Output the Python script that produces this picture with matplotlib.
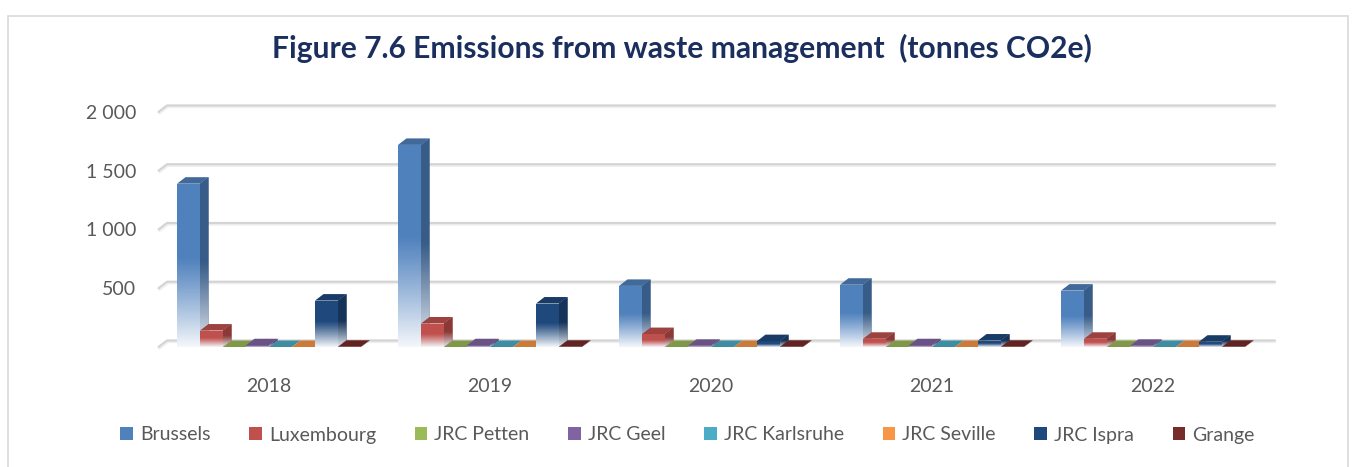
import numpy as np
import matplotlib
matplotlib.use("Agg")
import matplotlib.pyplot as plt
from matplotlib.patches import Polygon, Rectangle, Patch
from matplotlib.transforms import IdentityTransform
from matplotlib.colors import to_rgb
from matplotlib.ticker import FixedLocator, FixedFormatter
from matplotlib.lines import Line2D

# ---------------- data ----------------
years = ["2018", "2019", "2020", "2021", "2022"]
series_names = ["Brussels", "Luxembourg", "JRC Petten", "JRC Geel",
                "JRC Karlsruhe", "JRC Seville", "JRC Ispra", "Grange"]
brussels = [1390, 1720, 520, 530, 480]
luxembourg = [140, 200, 110, 70, 70]
jrc_petten = [0, 0, 0, 0, 0]
jrc_geel = [15, 15, 10, 15, 10]
jrc_karlsruhe = [0, 0, 0, 0, 0]
jrc_seville = [0, 0, 0, 0, 0]
jrc_ispra = [395, 370, 50, 55, 45]
grange = [2, 2, 2, 2, 2]
y_ticks = [500, 1000, 1500, 2000]
y_tick_labels = ["500", "1 000", "1 500", "2 000"]
grid_values = [0, 500, 1000, 1500, 2000]
title = "Figure 7.6 Emissions from waste management  (tonnes CO2e)"

series_values = [brussels, luxembourg, jrc_petten, jrc_geel,
                 jrc_karlsruhe, jrc_seville, jrc_ispra, grange]
colors = ["#4F81BD", "#C0504D", "#9BBB59", "#8064A2",
          "#4BACC6", "#F79646", "#1F497D", "#772C2A"]

FONT = ["Lato", "DejaVu Sans"]
plt.rcParams["font.family"] = FONT
TXT = "#595959"

W, H = 1356, 467
fig = plt.figure(figsize=(W / 100, H / 100), dpi=100)
fig.patch.set_facecolor("white")
ax = fig.add_axes([158.5 / W, (H - 347) / H, 1105 / W, 235 / H])
ax.set_xlim(-0.5, 4.5)
ax.set_ylim(0, 2000)
ax.set_facecolor("none")
for s in ax.spines.values():
    s.set_visible(False)

DX, DY = 8.5, 6.5   # 3-D depth offset in pixels

T = ax.transData
Tinv = ax.transData.inverted()

# back-wall gridlines (drawn inside the axes, beneath the bars)
for v in grid_values:
    x0, y0 = T.transform((-0.5, v))
    x1, _ = T.transform((4.5, v))
    sh = Line2D([x0 + 1, x0 + DX + 1, x1 + DX + 3], [y0 - 1.6, y0 + DY - 1.6, y0 + DY - 1.6],
                transform=IdentityTransform(), color="#EFEFEF", lw=1.4, zorder=0.4)
    sh.set_clip_on(False)
    ax.add_line(sh)
    line = Line2D([x0, x0 + DX, x1 + DX + 3], [y0, y0 + DY, y0 + DY],
                  transform=IdentityTransform(), color="#D4D4D4", lw=1.6,
                  zorder=0.5, solid_capstyle="round")
    line.set_clip_on(False)
    ax.add_line(line)


def shade(c, f):
    r = np.array(to_rgb(c))
    return tuple(r * f)


def grad_img(top, bottom, solid_frac, n=200):
    top = np.array(to_rgb(top))
    bottom = np.array(to_rgb(bottom))
    t = np.linspace(0, 1, n)
    k = np.clip((t - solid_frac) / (1 - solid_frac), 0, 1)
    k = k ** 1.1
    arr = top[None, :] * (1 - k[:, None]) + bottom[None, :] * k[:, None]
    return arr[:, None, :]


n_series = len(series_names)
bw = 23 / 221.0
x_base = np.arange(len(years))
z = 2.0
for g in range(len(years)):
    for j in range(n_series):
        v = series_values[j][g]
        xc = x_base[g] + (j - (n_series - 1) / 2) * bw
        c = colors[j]
        bars = ax.bar([xc], [v], width=bw, color=c, zorder=z, linewidth=0)
        rect = bars[0]
        xl, xr = xc - bw / 2, xc + bw / 2
        # front gradient
        if v > 0:
            im = ax.imshow(grad_img(c, "#F4F7FB", 0.45), extent=(xl, xr, 0, v),
                           origin="upper", aspect="auto", interpolation="bilinear",
                           zorder=z + 0.001)
            im.set_clip_path(rect)
        # display coordinates
        pl, pb = T.transform((xl, 0))
        pr, pt = T.transform((xr, v))
        # side face
        side = Polygon([(pr, pb), (pr, pt), (pr + DX, pt + DY), (pr + DX, pb + DY)],
                       closed=True, transform=IdentityTransform(),
                       facecolor=shade(c, 0.72), edgecolor="none", zorder=z + 0.002)
        ax.add_patch(side)
        side.set_clip_on(False)
        if v > 0:
            (dxl, dyb) = Tinv.transform((pr, pb))
            (dxr, dyt) = Tinv.transform((pr + DX, pt + DY))
            im2 = ax.imshow(grad_img(shade(c, 0.72), "#E8ECF2", 0.5),
                            extent=(dxl, dxr, dyb, dyt), origin="upper",
                            aspect="auto", interpolation="bilinear",
                            zorder=z + 0.003)
            im2.set_clip_path(side)
            im2.set_clip_on(True)
        # top face
        top = Polygon([(pl, pt), (pr, pt), (pr + DX, pt + DY), (pl + DX, pt + DY)],
                      closed=True, transform=IdentityTransform(),
                      facecolor=shade(c, 0.82), edgecolor="none", zorder=z + 0.004)
        top.set_clip_on(False)
        ax.add_patch(top)
        z += 0.01

ax.set_xlim(-0.5, 4.5)
ax.set_ylim(0, 2000)

ax.xaxis.set_major_locator(FixedLocator(list(x_base)))
ax.xaxis.set_major_formatter(FixedFormatter(years))
ax.yaxis.set_major_locator(FixedLocator(y_ticks))
ax.yaxis.set_major_formatter(FixedFormatter(y_tick_labels))
ax.tick_params(axis="both", length=0, colors=TXT, labelsize=14)
ax.tick_params(axis="y", pad=16)
ax.tick_params(axis="x", pad=22)

fig.text(0.503, 1 - 48 / H, title, ha="center", va="center",
         fontsize=21.6, fontweight="bold", color="#1B2F5E")

handles = [Patch(facecolor=c, edgecolor="none") for c in colors]
leg = fig.legend(handles, series_names, loc="center", ncol=8,
                 bbox_to_anchor=(0.507, 1 - 435 / H), frameon=False,
                 fontsize=14, handlelength=0.65, handleheight=0.65,
                 handletextpad=0.35, columnspacing=2.0, labelcolor=TXT)

# chart border
border = Rectangle((8, -10), W - 16, H - 8 + 10 - 8, transform=IdentityTransform(),
                   fill=False, edgecolor="#D9D9D9", lw=1.2)
fig.add_artist(border)

fig.savefig("out.png", dpi=100, facecolor="white")
